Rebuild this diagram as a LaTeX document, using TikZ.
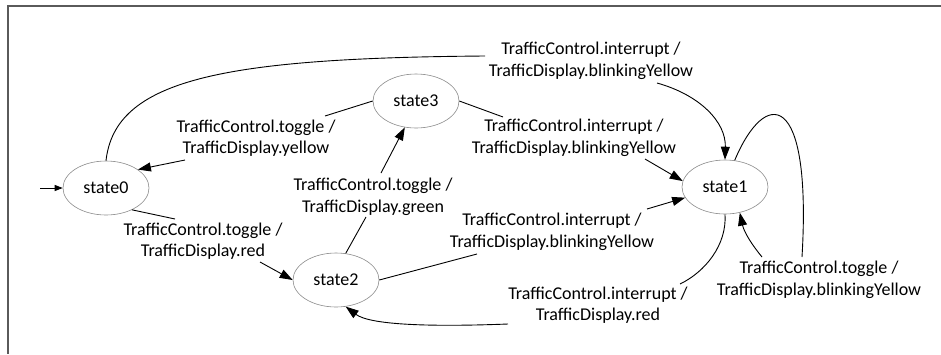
\documentclass[tikz,border=0pt]{standalone}
\usepackage{fontspec}
\setmainfont{Carlito}
\usetikzlibrary{arrows.meta,shapes.geometric}
\definecolor{framec}{HTML}{5A5A5A}
\definecolor{ellc}{HTML}{8A8A8A}
\tikzset{
  statebox/.style={ellipse,draw=ellc,line width=0.6pt,minimum width=86pt,minimum height=54pt,inner sep=0pt,font=\fontsize{18}{21.5}\selectfont},
  lbl/.style={align=center,inner sep=0pt,font=\fontsize{18}{21.5}\selectfont},
  edge/.style={draw=black,line width=0.9pt},
  arr/.style={edge,-{Triangle[length=13pt,width=9pt]}},
  initarr/.style={edge,-{Triangle[length=8pt,width=6pt]}}
}
\begin{document}
\begin{tikzpicture}[x=1pt,y=-1pt]
\useasboundingbox (0,0) rectangle (941,354);
\draw[framec,line width=2pt] (941,5.5) -- (7.5,5.5) -- (7.5,354);

% states
\node[statebox] (s0) at (106,188) {state0};
\node[statebox] (s3) at (416,101) {state3};
\node[statebox] (s1) at (725,187) {state1};
\node[statebox] (s2) at (336,280) {state2};

% labels
\node[lbl] (l01) at (591,61) {TrafficControl.interrupt /\\TrafficDisplay.blinkingYellow};
\node[lbl] (l30) at (256,138) {TrafficControl.toggle /\\TrafficDisplay.yellow};
\node[lbl] (l31) at (574,138) {TrafficControl.interrupt /\\TrafficDisplay.blinkingYellow};
\node[lbl] (l23) at (373,197) {TrafficControl.toggle /\\TrafficDisplay.green};
\node[lbl] (l02) at (203,241) {TrafficControl.toggle /\\TrafficDisplay.red};
\node[lbl] (l21) at (552,232) {TrafficControl.interrupt /\\TrafficDisplay.blinkingYellow};
\node[lbl] (l12) at (598,305) {TrafficControl.interrupt /\\TrafficDisplay.red};
\node[lbl] (l11) at (819,280) {TrafficControl.toggle /\\TrafficDisplay.blinkingYellow};

% break points
\coordinate (a1) at (485,56);   \coordinate (b1) at (657,83);
\coordinate (a2) at (503,117);  \coordinate (b2) at (645,159);
\coordinate (a3) at (325,116);  \coordinate (b3) at (185,160);
\coordinate (a4) at (366,217);  \coordinate (b4) at (381,173);
\coordinate (a5) at (175,219);  \coordinate (b5) at (260,262);
\coordinate (a6) at (477,254);  \coordinate (b6) at (647,209);
\coordinate (a7) at (680,284);  \coordinate (b7) at (508,324);
\coordinate (a8) at (802,257);  \coordinate (b8) at (762,257);
\coordinate (i0) at (40,188);

% initial
\draw[initarr] (i0) -- (s0.west);

% state0 -> state1 (top)
\draw[edge] (s0.north) .. controls (115,80) and (220,58) .. (a1);
\draw[arr] (b1) .. controls (700,95) and (726,122) .. (s1.north);

% state3 -> state1
\draw[edge] (s3.east) -- (a2);
\draw[arr] (b2) -- (s1.172);

% state3 -> state0
\draw[edge] (s3.west) -- (a3);
\draw[arr] (b3) -- (s0.30);

% state2 -> state3
\draw[edge] (s2.70) -- (a4);
\draw[arr] (b4) -- (s3.-113);

% state0 -> state2
\draw[edge] (s0.-40) -- (a5);
\draw[arr] (b5) -- (s2.west);

% state2 -> state1
\draw[edge] (s2.east) -- (a6);
\draw[arr] (b6) -- (s1.195);

% state1 -> state2
\draw[edge] (s1.south) .. controls (727,245) and (705,272) .. (a7);
\draw[arr] (b7) .. controls (430,327) and (370,325) .. (s2.-70);

% self loop state1
\draw[edge] (s1.70) .. controls (765,88) and (812,88) .. (a8);
\draw[arr] (b8) .. controls (752,245) and (744,232) .. (s1.-60);
\end{tikzpicture}
\end{document}
